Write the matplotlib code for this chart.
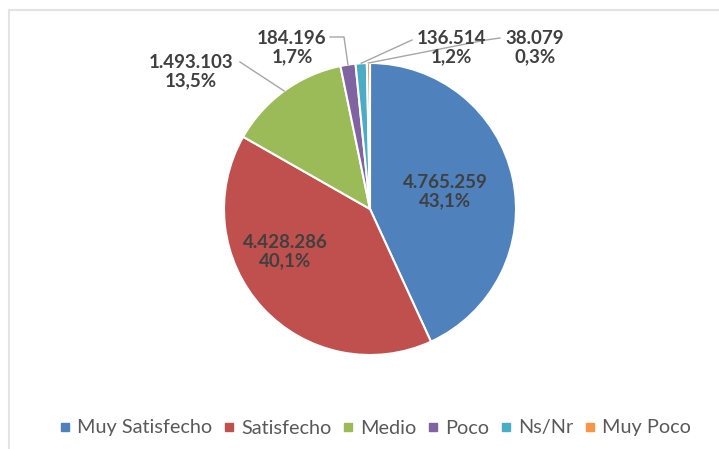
import numpy as np
import matplotlib.pyplot as plt

# Datos
categorias = ["Muy Satisfecho", "Satisfecho", "Medio", "Poco", "Ns/Nr", "Muy Poco"]
valores = [4765259, 4428286, 1493103, 184196, 136514, 38079]
etiquetas_valor = ["4.765.259", "4.428.286", "1.493.103", "184.196", "136.514", "38.079"]
etiquetas_pct = ["43,1%", "40,1%", "13,5%", "1,7%", "1,2%", "0,3%"]
colores = ["#4F81BD", "#C0504D", "#9BBB59", "#8064A2", "#4BACC6", "#F79646"]

fig = plt.figure(figsize=(7.19, 4.49), dpi=100)
W, H = 719, 449

# marco gris claro de la imagen original
fig.add_artist(plt.Line2D([9 / W, 9 / W], [0, 1 - 10 / H], color="#E3E3E3", lw=1.5))
fig.add_artist(plt.Line2D([9 / W, 1], [1 - 10 / H, 1 - 10 / H], color="#E3E3E3", lw=1.5))

# ejes cuadrados centrados en el pastel
cx, cy, r = 370, 209, 146
ax = fig.add_axes([(cx - r) / W, (H - cy - r) / H, 2 * r / W, 2 * r / H])

wedges, _ = ax.pie(valores, colors=colores, startangle=90, counterclock=False,
                   radius=1, wedgeprops=dict(edgecolor="white", linewidth=1.5))
ax.set_xlim(-1, 1)
ax.set_ylim(-1, 1)
ax.axis("off")

fuente = "Lato"
color_txt = "#404040"

# posiciones de las etiquetas (px de la imagen)
pos_px = [(445, 192), (285, 252), (191, 72), (292, 48), (451, 48), (535, 48)]
pos = [((x - cx) / r, (cy - y) / r) for x, y in pos_px]

total = sum(valores)
angulos = []
acum = 0
for v in valores:
    medio = 90 - (acum + v / 2) / total * 360
    angulos.append(np.deg2rad(medio))
    acum += v

for i in range(len(valores)):
    texto = etiquetas_valor[i] + "\n" + etiquetas_pct[i]
    ax.text(pos[i][0], pos[i][1], texto, ha="center", va="center",
            fontsize=13.5, fontweight="bold", color=color_txt, family=fuente,
            linespacing=1.1, clip_on=False)

# líneas guía de las etiquetas exteriores
linea = dict(color="#A6A6A6", lw=1)
ang = angulos
# Medio
ax.plot([(240 - cx) / r, np.cos(ang[2])], [(cy - 62) / r, np.sin(ang[2])], **linea, clip_on=False)
# Poco
px, py = np.cos(ang[3]), np.sin(ang[3])
ax.plot([(330 - cx) / r, (344 - cx) / r, px], [(cy - 37) / r, (cy - 37) / r, py], **linea, clip_on=False)
# Ns/Nr
px, py = np.cos(ang[4]), np.sin(ang[4])
ax.plot([(412 - cx) / r, px], [(cy - 40) / r, py], **linea, clip_on=False)
# Muy Poco
px, py = np.cos(ang[5]), np.sin(ang[5])
ax.plot([(500 - cx) / r, (486 - cx) / r, px], [(cy - 38) / r, (cy - 40) / r, py], **linea, clip_on=False)

# leyenda
handles = [plt.Line2D([], [], marker="s", linestyle="", markersize=5.5,
                      color=c) for c in colores]
fig.legend(handles, categorias, loc="center", bbox_to_anchor=(375 / W, 1 - 428 / H),
           ncol=6, frameon=False, handlelength=0.6, handletextpad=0.3,
           columnspacing=0.55, prop=dict(family=fuente, size=14.3),
           labelcolor="#595959")

fig.savefig("out.png", dpi=100)
